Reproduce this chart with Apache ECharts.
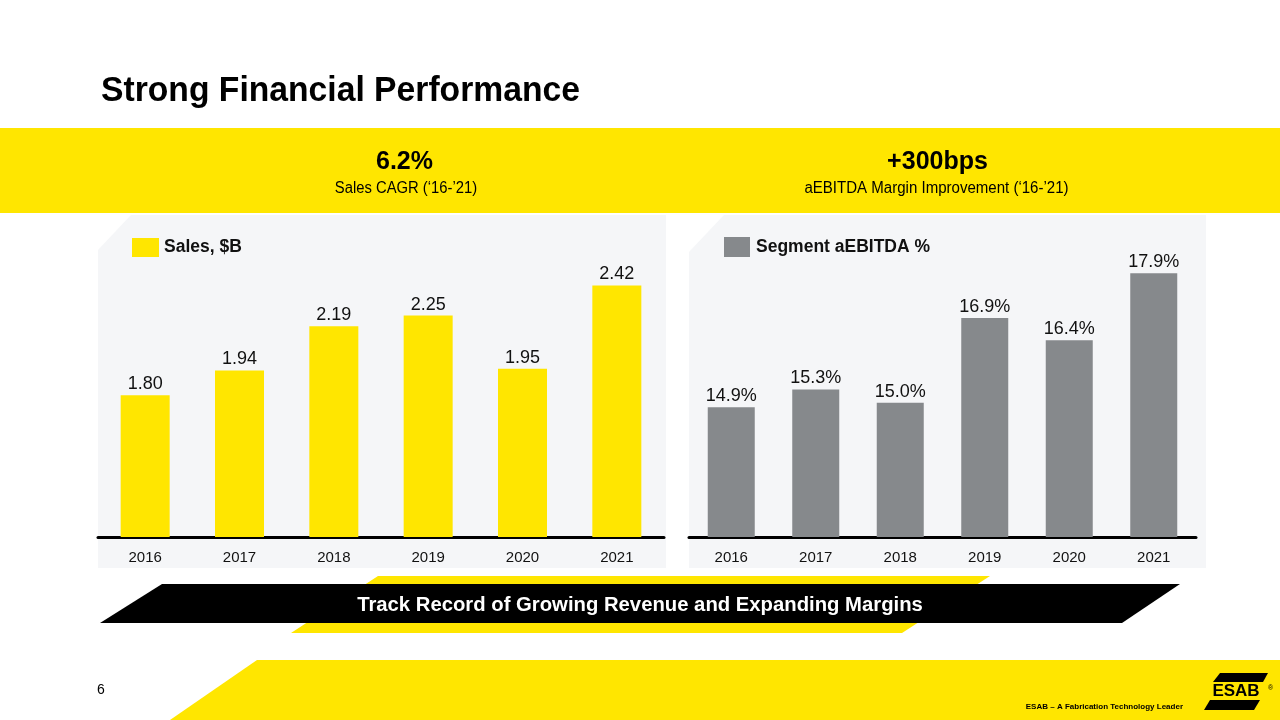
<!DOCTYPE html>
<html>
<head>
<meta charset="utf-8">
<script src="https://cdn.jsdelivr.net/npm/echarts@6/dist/echarts.min.js"></script>
<style>
html,body{margin:0;padding:0;background:#fff;}
#c{width:1280px;height:720px;}
</style>
</head>
<body>
<div id="c"></div>
<script>
const years = ['2016', '2017', '2018', '2019', '2020', '2021'];
const sales = [1.80, 1.94, 2.19, 2.25, 1.95, 2.42];
const margin = [14.9, 15.3, 15.0, 16.9, 16.4, 17.9];
const salesName = 'Sales, $B';
const marginName = 'Segment aEBITDA %';

const YEL = '#FFE600';
const GRAY = '#86898C';
const PANEL = '#F5F6F8';
const FONT = '"Liberation Sans", Arial, sans-serif';

const chart = echarts.init(document.getElementById('c'));

const graphics = [
  // banner
  { type: 'rect', z: -10, shape: { x: 0, y: 128, width: 1280, height: 85 }, style: { fill: YEL } },
  // panels
  { type: 'polygon', z: -10, shape: { points: [[131, 215], [666, 215], [666, 568], [98, 568], [98, 250]] }, style: { fill: PANEL } },
  { type: 'polygon', z: -10, shape: { points: [[724, 215], [1206, 215], [1206, 568], [689, 568], [689, 252]] }, style: { fill: PANEL } },
  // bottom stripes
  { type: 'polygon', z: -10, shape: { points: [[378, 576], [990, 576], [902, 633], [291, 633]] }, style: { fill: YEL } },
  { type: 'polygon', z: -9, shape: { points: [[162, 584], [1180, 584], [1122, 623], [100, 623]] }, style: { fill: '#000' } },
  { type: 'polygon', z: -10, shape: { points: [[257, 660], [1280, 660], [1280, 720], [170, 720]] }, style: { fill: YEL } },
  // title
  { type: 'text', x: 101, y: 91, scaleX: 0.962, style: { text: 'Strong Financial Performance', font: 'bold 35px ' + FONT, fill: '#000', verticalAlign: 'middle' } },
  // banner texts
  { type: 'text', x: 404.5, y: 162, style: { text: '6.2%', font: 'bold 25px ' + FONT, fill: '#000', align: 'center', verticalAlign: 'middle' } },
  { type: 'text', x: 406, y: 189, scaleX: 0.925, style: { text: 'Sales CAGR (‘16-’21)', font: '16px ' + FONT, fill: '#000', align: 'center', verticalAlign: 'middle' } },
  { type: 'text', x: 937.5, y: 162, style: { text: '+300bps', font: 'bold 25px ' + FONT, fill: '#000', align: 'center', verticalAlign: 'middle' } },
  { type: 'text', x: 936.5, y: 189, scaleX: 0.94, style: { text: 'aEBITDA Margin Improvement (‘16-’21)', font: '16px ' + FONT, fill: '#000', align: 'center', verticalAlign: 'middle' } },
  // stripe text
  { type: 'text', x: 640, y: 605, z: 5, style: { text: 'Track Record of Growing Revenue and Expanding Margins', font: 'bold 20.3px ' + FONT, fill: '#fff', align: 'center', verticalAlign: 'middle' } },
  // footer
  { type: 'text', x: 97, y: 690, style: { text: '6', font: '14px ' + FONT, fill: '#000', verticalAlign: 'middle' } },
  { type: 'text', x: 1183, y: 707, style: { text: 'ESAB – A Fabrication Technology Leader', font: 'bold 8px ' + FONT, fill: '#000', align: 'right', verticalAlign: 'middle' } },
  // logo
  { type: 'polygon', z: 2, shape: { points: [[1220, 673], [1268, 673], [1263, 682], [1213, 682]] }, style: { fill: '#000' } },
  { type: 'text', x: 1236, y: 691, z: 2, style: { text: 'ESAB', font: 'bold 17px ' + FONT, fill: '#000', align: 'center', verticalAlign: 'middle' } },
  { type: 'polygon', z: 2, shape: { points: [[1210, 700], [1260, 700], [1254, 710], [1204, 710]] }, style: { fill: '#000' } },
  { type: 'text', x: 1268, y: 688, style: { text: '®', font: '7px ' + FONT, fill: '#000', verticalAlign: 'middle' } }
];

const option = {
  animation: false,
  backgroundColor: '#fff',
  textStyle: { fontFamily: FONT },
  graphic: graphics,
  legend: [
    { data: [salesName], left: 127, top: 233, padding: 5, itemWidth: 27, itemHeight: 19, icon: 'rect', selectedMode: false,
      textStyle: { fontFamily: FONT, fontWeight: 'bold', fontSize: 17.5, color: '#111' } },
    { data: [marginName], left: 719, top: 232, padding: 5, itemWidth: 26, itemHeight: 20, icon: 'rect', selectedMode: false,
      textStyle: { fontFamily: FONT, fontWeight: 'bold', fontSize: 17.5, color: '#111', padding: [0, 0, 0, 1] } }
  ],
  grid: [
    { left: 98, top: 227, width: 566, height: 310 },
    { left: 689, top: 224, width: 507, height: 313 }
  ],
  xAxis: [0, 1].map(i => ({
    type: 'category', gridIndex: i, data: years,
    axisLine: { onZero: false, lineStyle: { color: '#000', width: 3 } },
    axisTick: { show: false },
    axisLabel: { margin: 13, fontSize: 15, color: '#111', fontFamily: FONT }
  })),
  yAxis: [
    { type: 'value', gridIndex: 0, min: 1, max: 2.75, show: false, splitLine: { show: false } },
    { type: 'value', gridIndex: 1, min: 12, max: 19, show: false, splitLine: { show: false } }
  ],
  series: [
    { name: salesName, type: 'bar', xAxisIndex: 0, yAxisIndex: 0, data: sales, barWidth: 49, clip: true,
      itemStyle: { color: YEL },
      label: { show: true, position: 'top', distance: 2, fontSize: 18, color: '#111', fontFamily: FONT,
        formatter: p => p.value.toFixed(2) } },
    { name: marginName, type: 'bar', xAxisIndex: 1, yAxisIndex: 1, data: margin, barWidth: 47, clip: true,
      itemStyle: { color: GRAY },
      label: { show: true, position: 'top', distance: 2, fontSize: 18, color: '#111', fontFamily: FONT,
        formatter: p => p.value.toFixed(1) + '%' } }
  ]
};
chart.setOption(option);
</script>
</body>
</html>
